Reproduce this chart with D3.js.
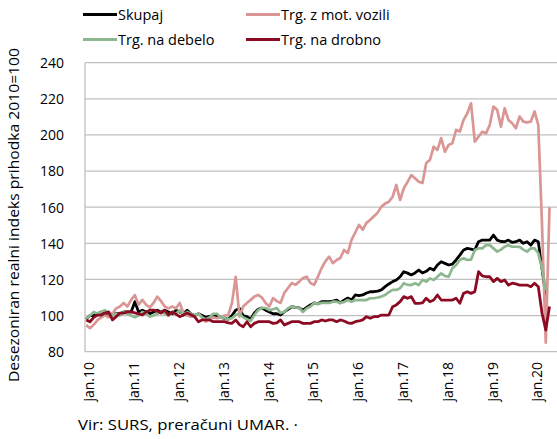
<!DOCTYPE html>
<html><head><meta charset="utf-8">
<script src="https://cdn.jsdelivr.net/npm/d3@7"></script>
<style>body{margin:0;background:#fff}svg{display:block}text{font-family:"Open Sans",sans-serif;fill:#000}</style>
</head><body><svg id="c" width="557" height="439"></svg>
<script>
const seriesNames = ["Skupaj","Trg. z mot. vozili","Trg. na debelo","Trg. na drobno"];
const seriesColors = ["#000000","#D99694","#8DB88F","#8C0A22"];
const yTicks = [80,100,120,140,160,180,200,220,240];
const yearLabels = ["jan.10","jan.11","jan.12","jan.13","jan.14","jan.15","jan.16","jan.17","jan.18","jan.19","jan.20"];
const yTitle = "Desezoniran realni indeks prihodka  2010=100";
const source = "Vir: SURS, preračuni UMAR. ·";
// monthly values Jan 2010 onward
const skupaj = [
98,100,100,101,102,101,100,101,101,101,102,102,
102,107.7,102,103,102,101,102,103,102,103,102,101,
103,102,101,103,101,100,101,100,99,99.5,100,100,
99,98.5,98,100,103,104,100,99.4,98,101.4,103.5,104.2,
103,102,101,101,100.3,102,103.5,104.9,104.5,104.2,103,104.5,
105.9,107,106.5,107.7,107.7,107.7,108,108.6,107,108.5,109.7,108.6,
111.4,111,111.4,112.5,113.2,113.2,113.5,114.2,116,117.5,118.8,119.7,
121.5,124.3,123.5,122.5,123.6,125.2,123.6,124.5,126.2,125.2,128,129.8,
128.9,128,128.5,130.8,133.5,136.3,137.2,136.8,136.3,140.9,141.8,141.8,
141.8,144.6,141.8,141,140.9,141.8,140.5,140.9,141.8,140,140.9,139,
141.8,140.9,126,111];
const motVozila = [
94.7,93,95,97.5,99,100.3,99,101,104,105,107,105,
108.7,111.3,106,108.7,106,104.5,107,110.5,108,105,104,105,
104,107,101.4,100,99.4,100,101,99,96.6,98,99,98.5,
99,100,100.3,107,121.5,99.4,105,107,108.7,110.5,111.4,110,
107,105,109.7,108,107,112.5,115.3,118,117,118.8,120.8,121.5,
118,117,121.5,126.3,130,132.6,129,130.8,131.9,136.3,134.6,141.9,
146,150.2,147.5,151.3,153,155,157,160.3,162,163,165.8,172.3,
164,170.5,174,177.8,176,174.1,173.4,184.5,186.2,193.5,191.7,198.2,
190.7,194.5,195.4,202.8,201.9,208.3,212,217.5,196.3,199,201.8,200.9,
205.5,215.7,213.8,204.6,214.8,208.3,206.5,203.7,210.2,207.4,207,207.4,
213,205.5,150,85,160];
const debelo = [
98,100,102,101,102,103,101,100,101,100,102,101,
100,99,100,102,101,99.4,100,101,102,101,100,102,
101,103,100,102,101,100,101,99,98,99,101,101,
99,98.6,98,98.6,100.3,101,99,98,97,100.3,103,104.2,
104.2,103,103.5,104.2,101.4,102,104,105,104.5,104.2,102,104,
105,107,106.5,107,107,107,107.7,107.7,107,107.5,108.6,107.7,
108.6,108.6,108.6,108.6,109.6,109.6,110,110.5,111.4,113,114.2,114.2,
115.1,117.9,117,116.9,117.9,116.9,119.7,118.8,120.6,119.7,121.5,123.4,
122,121.5,126.2,128,130.8,131.7,130.8,131,136.3,137.2,137.2,139,
139,137.2,135.4,136.5,138.1,139,138.1,138.1,138,136.5,135.4,137.2,
137.2,134.5,126,114];
const drobno = [
97.6,96.6,99,100.3,100.3,101.4,102,97.6,99.4,101.4,101.4,102,
102,101.5,101,100.3,102,103,103,102.5,101.4,103,100.3,102,
100.8,99.4,100.3,101.4,100.5,99.4,96.6,97.6,97.6,97.6,96.6,96.6,
96.6,96.6,96,95.7,97.6,95,93.8,96.6,93.8,95.7,96.6,96.6,
96.6,96.6,95.7,96,97.6,94.8,95.7,96.6,96.6,96.6,95.7,95.7,
95.7,96.6,96.6,97.6,97,97.6,97.6,96.6,97.6,97,96,95.7,
96.6,97,97.6,99.4,98.5,99.4,99.4,100.3,100.3,100.3,104.9,105.9,
107.7,110.5,109.6,110.5,106.8,106.8,107,109.6,107.7,108.6,111.4,108.6,
108.6,108.6,108.6,109.6,106.8,112.3,113.2,112.3,113.2,124.3,122,121.5,
121.5,118.8,120.6,118.8,119.7,116.9,117.9,117.5,116.9,116.9,116.9,116,
117.9,116,101.3,92,105];
const allSeries = [skupaj, motVozila, debelo, drobno];

const svg = d3.select("#c");
const L = 85, R = 557, T = 62.7, B = 351.7;
const x = d3.scaleLinear().domain([0,124]).range([86.3,549.5]);
const y = d3.scaleLinear().domain([80,240]).range([B,T]);

// gridlines
svg.append("g").selectAll("line").data(yTicks.filter(d=>d>80)).join("line")
  .attr("x1",L).attr("x2",R).attr("y1",d=>y(d)).attr("y2",d=>y(d))
  .attr("stroke","#BFBFBF").attr("stroke-width",1.3);
// axes lines
svg.append("line").attr("x1",L).attr("x2",L).attr("y1",T).attr("y2",B).attr("stroke","#BFBFBF").attr("stroke-width",1.3);
svg.append("line").attr("x1",L).attr("x2",R).attr("y1",B).attr("y2",B).attr("stroke","#BFBFBF").attr("stroke-width",1.3);

// y tick labels
const yAxis = d3.axisLeft(y).tickValues(yTicks).tickSize(0).tickPadding(0);
const ga = svg.append("g").attr("transform",`translate(64,0)`).call(yAxis);
ga.select(".domain").remove();
ga.selectAll("text").attr("font-size",14).attr("font-family",'"Open Sans",sans-serif').attr("fill","#000").attr("dy","0.35em");

// x labels
svg.append("g").selectAll("text").data(yearLabels).join("text")
  .attr("transform",(d,i)=>`translate(${x(i*12)+3},362) rotate(-90)`)
  .attr("text-anchor","end").attr("dy","0.35em").attr("font-size",14).text(d=>d);

// lines
const line = d3.line().x((d,i)=>x(i)).y(d=>y(d));
allSeries.forEach((s,k)=>{
  svg.append("path").datum(s).attr("d",line).attr("fill","none")
    .attr("stroke",seriesColors[k]).attr("stroke-width",k===0||k===3?2.8:2.7)
    .attr("stroke-linejoin","round");
});

// legend
const legPos = [[83,14.5],[246,14.5],[83,39.5],[246,39.5]];
seriesNames.forEach((n,k)=>{
  const [lx,ly] = legPos[k];
  svg.append("line").attr("x1",lx).attr("x2",lx+34).attr("y1",ly).attr("y2",ly)
    .attr("stroke",seriesColors[k]).attr("stroke-width",2.8);
  svg.append("text").attr("x",lx+35).attr("y",ly).attr("dy","0.35em").attr("font-size",14.5).text(n);
});

// y title
svg.append("text").attr("transform","translate(14,215) rotate(-90)").attr("text-anchor","middle")
  .attr("dy","0.35em").attr("font-size",14.5).attr("textLength",334).attr("lengthAdjust","spacingAndGlyphs").text(yTitle);

// source
svg.append("text").attr("x",78).attr("y",430).attr("font-size",14).attr("textLength",220).attr("lengthAdjust","spacingAndGlyphs").text(source);
</script></body></html>
